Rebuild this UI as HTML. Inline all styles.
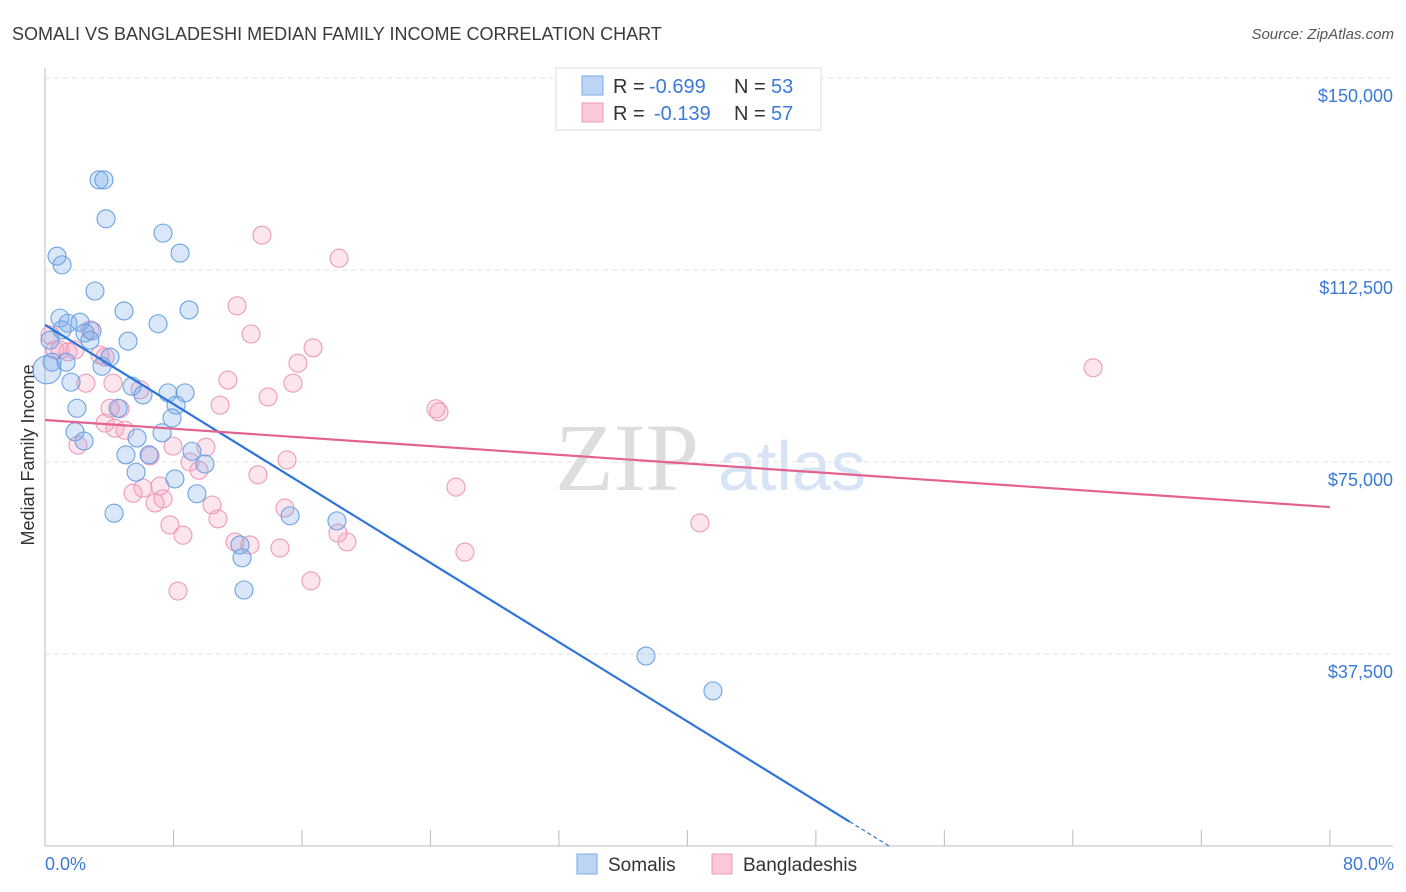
<!DOCTYPE html>
<html><head><meta charset="utf-8">
<style>
body{margin:0;background:#fff;font-family:"Liberation Sans",sans-serif;}
#wrap{position:relative;width:1406px;height:892px;overflow:hidden;}
</style></head>
<body>
<div id="wrap">
<svg id="svg" width="1406" height="892" xmlns="http://www.w3.org/2000/svg">
<text x="12" y="40" font-size="18" fill="#3a3a3a">SOMALI VS BANGLADESHI MEDIAN FAMILY INCOME CORRELATION CHART</text>
<text x="1394" y="39" font-size="15" fill="#555" font-style="italic" text-anchor="end">Source: ZipAtlas.com</text>
<text x="555" y="490" font-size="96" fill="#ddd" font-family="Liberation Serif">ZIP</text>
<text x="718" y="490" font-size="70" fill="#d6e4f5">atlas</text>
<text x="34" y="455" font-size="18" fill="#333" text-anchor="middle" transform="rotate(-90 34 455)">Median Family Income</text>
<g id="grid"></g><g id="pts"></g><g id="lines"></g>
<g>
<rect x="556" y="68" width="265" height="62" fill="#fff" stroke="#ddd"/>
<rect x="582" y="76" width="21" height="19" fill="#bcd5f5" stroke="#7aa9e6"/>
<rect x="582" y="103" width="21" height="19" fill="#fbc9d8" stroke="#ee98b5"/>
<text x="613" y="93" font-size="20" fill="#333">R =</text>
<text x="649" y="93" font-size="20" fill="#3b7ad8">-0.699</text>
<text x="734" y="93" font-size="20" fill="#333">N =</text>
<text x="771" y="93" font-size="20" fill="#3b7ad8">53</text>
<text x="613" y="120" font-size="20" fill="#333">R =</text>
<text x="654" y="120" font-size="20" fill="#3b7ad8">-0.139</text>
<text x="734" y="120" font-size="20" fill="#333">N =</text>
<text x="771" y="120" font-size="20" fill="#3b7ad8">57</text>
</g>
<g>
<rect x="577" y="854" width="20" height="20" fill="#bcd5f5" stroke="#7aa9e6"/>
<text x="608" y="871" font-size="19" fill="#333">Somalis</text>
<rect x="712" y="854" width="20" height="20" fill="#fbc9d8" stroke="#ee98b5"/>
<text x="743" y="871" font-size="19" fill="#333">Bangladeshis</text>
</g>
<text x="45" y="870" font-size="18" fill="#3b7ad8">0.0%</text>
<text x="1394" y="870" font-size="18" fill="#3b7ad8" text-anchor="end">80.0%</text>
</svg>
</div>
<script>
const yTicks=[37500,75000,112500,150000];
const yTickLabels=["$37,500","$75,000","$112,500","$150,000"];
const xTicks=[0,8,16,24,32,40,48,56,64,72,80];
const somaliX=[3.36,3.67,3.80,7.35,8.41,0.75,1.06,3.11,4.92,8.97,7.04,0.93,1.43,2.18,2.93,2.49,5.17,2.80,4.05,0.44,1.31,3.55,1.62,5.42,7.66,8.72,6.10,8.16,4.55,1.99,7.91,1.87,7.29,5.73,2.43,5.04,6.48,9.15,9.96,5.67,8.09,9.46,4.30,15.26,18.18,12.14,12.27,12.39,37.42,41.59,0.12,0.31,1.06];
const somaliY=[130.1,130.1,122.5,119.7,115.8,115.2,113.5,108.4,104.5,104.7,102.0,103.1,102.1,102.3,100.6,100.2,98.6,98.8,95.5,94.5,94.5,93.7,90.6,89.8,88.5,88.5,88.1,86.1,85.5,85.5,83.6,80.9,80.7,79.7,79.1,76.4,76.4,77.1,74.6,73.0,71.7,68.8,65.0,64.5,63.5,58.8,56.3,50.0,37.1,30.3,93.0,98.8,100.8];
const bangX=[0.31,0.62,0.93,1.43,1.87,2.80,3.42,3.74,2.55,4.23,5.92,4.67,3.74,4.36,4.98,2.05,7.97,10.02,6.54,9.03,9.59,6.10,7.16,5.48,7.35,6.85,10.40,10.77,8.59,7.78,11.83,12.76,14.63,8.28,16.56,18.80,18.24,14.94,15.07,13.26,10.90,11.39,13.89,15.44,15.75,16.69,12.83,11.96,13.51,18.31,24.35,24.53,25.59,26.15,40.78,65.26,4.05];
const bangY=[99.8,96.9,96.9,96.5,96.9,100.8,95.9,95.5,90.4,90.4,89.1,85.4,82.6,81.6,81.2,78.3,78.1,77.9,76.2,75.0,73.4,69.9,70.3,68.9,67.8,67.0,66.6,63.9,60.7,62.7,59.4,58.8,58.2,49.8,51.8,59.4,61.1,66.0,75.4,72.5,86.1,91.0,87.7,90.4,94.3,97.3,100.0,105.5,119.3,114.8,85.4,84.8,70.1,57.4,63.1,93.4,85.5];
const somaliTrend=[101.8,-1.937];
const bangTrend=[83.2,-0.2125];
const NS="http://www.w3.org/2000/svg";
const X=v=>45+v*16.06, Y=k=>846-k*1000/37500*192;
function mk(t,a,p){const e=document.createElementNS(NS,t);for(const k in a)e.setAttribute(k,a[k]);p.appendChild(e);return e;}
const grid=document.getElementById('grid');
yTicks.forEach((t,i)=>{
 const l=mk('line',{x1:45,x2:1393,y1:Y(t/1000),y2:Y(t/1000),stroke:'#e2e2e2','stroke-dasharray':'5,4'},grid);
 
 
 const tx=mk('text',{x:1393,y:Y(t/1000)+24,'font-size':18,fill:'#3b7ad8','text-anchor':'end'},grid);
 tx.textContent=yTickLabels[i];
 
 
});
const ax=mk('line',{x1:45,x2:1393,y1:846,y2:846,stroke:'#bbb'},grid);


const ay=mk('line',{x1:45,x2:45,y1:68,y2:846,stroke:'#bbb'},grid);


xTicks.forEach(t=>{const l=mk('line',{x1:X(t),x2:X(t),y1:830,y2:846,stroke:'#bbb'},grid);
 
 });
const pts=document.getElementById('pts');
bangX.forEach((x,i)=>{const c=mk('circle',{cx:X(x),cy:Y(bangY[i]),r:9,fill:'rgba(244,160,190,0.28)',stroke:'#ee9ab8','stroke-width':1.1},pts);
 
 });
somaliX.forEach((x,i)=>{const c=mk('circle',{cx:X(x),cy:Y(somaliY[i]),r:i==50?14:9,fill:'rgba(120,170,235,0.28)',stroke:'#6aa2e4','stroke-width':1.1},pts);
 
 });
const lines=document.getElementById('lines');
const xEnd=50.1, xZero=-somaliTrend[0]/somaliTrend[1];
const s1=mk('line',{x1:X(0),y1:Y(somaliTrend[0]),x2:X(xEnd),y2:Y(somaliTrend[0]+somaliTrend[1]*xEnd),stroke:'#2f74d8','stroke-width':2.2},lines);


const s2=mk('line',{x1:X(xEnd),y1:Y(somaliTrend[0]+somaliTrend[1]*xEnd),x2:X(xZero),y2:Y(0),stroke:'#2f74d8','stroke-width':1.2,'stroke-dasharray':'4,3'},lines);


const b1=mk('line',{x1:X(0),y1:Y(bangTrend[0]),x2:X(80),y2:Y(bangTrend[0]+bangTrend[1]*80),stroke:'#e4638e','stroke-width':2.2},lines);


</script>
</body></html>
